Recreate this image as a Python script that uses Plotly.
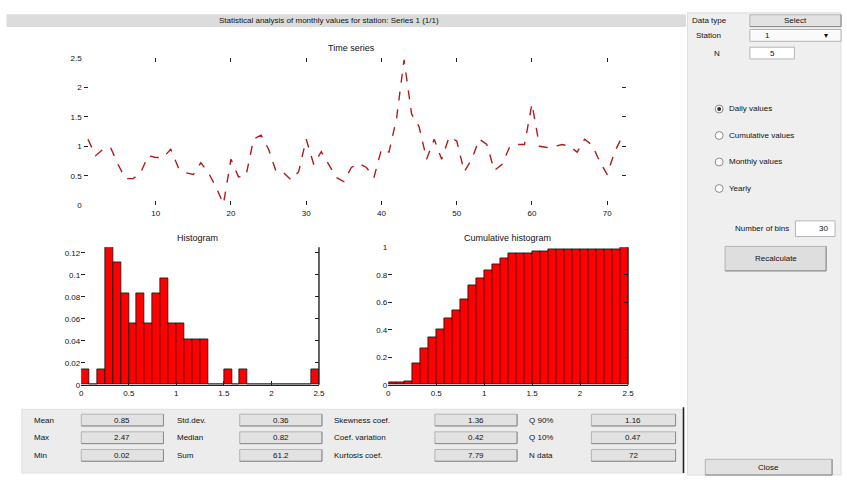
import numpy as np
import plotly.graph_objects as go

W, H = 847, 480
FONT = "Liberation Sans"

# ---- data -------------------------------------------------------------
month_index = list(range(1, 73))
series_values = [
    1.12, 0.84, 0.95, 0.98, 0.69, 0.45, 0.45, 0.55, 0.84, 0.81, 0.81, 0.95,
    0.64, 0.55, 0.52, 0.72, 0.55, 0.31, 0.02, 0.78, 0.48, 0.50, 1.12, 1.19,
    0.95, 0.57, 0.55, 0.43, 0.57, 1.12, 0.69, 0.91, 0.69, 0.47, 0.40, 0.64,
    0.71, 0.64, 0.47, 0.95, 0.90, 1.47, 2.47, 1.55, 1.33, 0.78, 1.12, 0.78,
    1.16, 1.09, 0.57, 0.78, 1.12, 1.03, 0.59, 0.69, 0.98, 1.03, 1.03, 1.72,
    1.00, 0.98, 1.00, 1.03, 1.00, 0.90, 1.12, 1.02, 0.74, 0.52, 0.91, 1.17,
]

n_bins = 30
hist_range = (0.0, 2.5)
hist_counts = [1, 0, 1, 9, 8, 6, 4, 6, 4, 6,
               7, 4, 4, 3, 3, 3, 0, 0, 1, 0,
               1, 0, 0, 0, 0, 0, 0, 0, 0, 1]
cdf_values = [0.014, 0.014, 0.028, 0.153, 0.264, 0.347, 0.403, 0.486, 0.542, 0.625,
              0.722, 0.778, 0.833, 0.875, 0.917, 0.958, 0.958, 0.958, 0.972, 0.972,
              0.986, 0.986, 0.986, 0.986, 0.986, 0.986, 0.986, 0.986, 0.986, 1.000]

series_ticks = [0, 0.5, 1, 1.5, 2, 2.5]
month_ticks = [10, 20, 30, 40, 50, 60, 70]
value_ticks = [0, 0.5, 1, 1.5, 2, 2.5]
freq_ticks = [0, 0.02, 0.04, 0.06, 0.08, 0.1, 0.12]
freq_labels = ["0", "0.02", "0.04", "0.06", "0.08", "0.1", "0.12"]
cdf_ticks = [0, 0.2, 0.4, 0.6, 0.8, 1]

option_labels = ["Daily values", "Cumulative values", "Monthly values", "Yearly"]

# ---- derived statistics shown in the lower panel ---------------------
v = np.array(series_values)
mu, sd = v.mean(), v.std(ddof=1)
skew = np.mean((v - mu) ** 3) / v.std() ** 3
kurt = np.mean((v - mu) ** 4) / v.std() ** 4
stat_rows = [
    [("Mean", f"{mu:.2f}"), ("Std.dev.", f"{sd:.2f}"),
     ("Skewness coef.", f"{skew:.2f}"), ("Q 90%", f"{np.percentile(v, 90):.2f}")],
    [("Max", f"{v.max():.2f}"), ("Median", f"{np.median(v):.2f}"),
     ("Coef. variation", f"{sd / mu:.2f}"), ("Q 10%", f"{np.percentile(v, 10):.2f}")],
    [("Min", f"{v.min():.2f}"), ("Sum", f"{v.sum():.1f}"),
     ("Kurtosis coef.", f"{kurt:.2f}"), ("N data", f"{len(v)}")],
]

# ---- helpers for pixel placement -------------------------------------
def px(x):
    return x / W


def py(y):
    return 1 - y / H


def rect(x0, y0, x1, y1, fill, line="#a8a8a8", lw=1, layer="below"):
    return dict(type="rect", xref="paper", yref="paper",
                x0=px(x0), x1=px(x1), y0=py(y1), y1=py(y0),
                fillcolor=fill, line=dict(color=line, width=lw), layer=layer)


def hline(x0, x1, y, color, lw=1):
    return dict(type="line", xref="paper", yref="paper",
                x0=px(x0), x1=px(x1), y0=py(y), y1=py(y),
                line=dict(color=color, width=lw))


def vline(x, y0, y1, color, lw=1):
    return dict(type="line", xref="paper", yref="paper",
                x0=px(x), x1=px(x), y0=py(y0), y1=py(y1),
                line=dict(color=color, width=lw))


def text(x, y, s, anchor="left", size=8, color="#111"):
    return dict(x=px(x), y=py(y), xref="paper", yref="paper", text=s,
                showarrow=False, xanchor=anchor, yanchor="middle",
                font=dict(family=FONT, size=size, color=color))


def button(x0, y0, x1, y1, label, fill="#e2e2e2"):
    shp = [rect(x0, y0, x1, y1, fill, line="#b4b4b4", layer="above"),
           hline(x0, x1, y1, "#8c8c8c"), vline(x1, y0, y1, "#8c8c8c")]
    ann = [text((x0 + x1) / 2, (y0 + y1) / 2, label, anchor="center")]
    return shp, ann


# ---- figure -----------------------------------------------------------
fig = go.Figure()

fig.add_trace(go.Scatter(
    x=month_index, y=series_values, mode="lines",
    line=dict(color="#b01c1c", width=1.4, dash="dash"),
    xaxis="x", yaxis="y", showlegend=False))

edges = np.linspace(hist_range[0], hist_range[1], n_bins + 1)
centers = (edges[:-1] + edges[1:]) / 2
bw = edges[1] - edges[0]
total = sum(hist_counts)

fig.add_trace(go.Bar(
    x=centers, y=[c / total for c in hist_counts], width=bw,
    marker=dict(color="#ff0000", line=dict(color="#111", width=0.8)),
    xaxis="x2", yaxis="y2", showlegend=False))

fig.add_trace(go.Bar(
    x=centers, y=cdf_values, width=bw,
    marker=dict(color="#ff0000", line=dict(color="#111", width=0.8)),
    xaxis="x3", yaxis="y3", showlegend=False))

tickfont = dict(family=FONT, size=8, color="#111")
common = dict(ticks="inside", ticklen=4, tickcolor="#222", tickfont=tickfont,
              showgrid=False, zeroline=False)

shapes = []
annotations = []

# window regions
shapes.append(rect(5, 11, 690, 23, "#dcdcdc", line="#dcdcdc"))
shapes.append(rect(692, 9, 847, 480, "#efefef", line="#dedede"))
shapes.append(rect(20, 413, 688, 478, "#ececec", line="#e0e0e0"))
shapes.append(vline(688, 411, 478, "#222", 1.6))
annotations.append(text(330, 17, "Statistical analysis of monthly values for station: Series 1 (1/1)",
                        anchor="center"))

# plot titles
annotations.append(text(353, 45, "Time series", anchor="center", size=9))
annotations.append(text(197, 238, "Histogram", anchor="center", size=9))
annotations.append(text(510, 238, "Cumulative histogram", anchor="center", size=9))

# right edge lines of the two lower axes
for ax in ("x2", "x3"):
    shapes.append(dict(type="line", xref=f"{ax} domain", yref=f"y{ax[1]} domain",
                       x0=1, x1=1, y0=0, y1=1, line=dict(color="#222", width=1.4)))

# right control panel
annotations.append(text(714, 17, "Data type", anchor="center"))
s, a = button(755, 11, 847, 23, "Select")
shapes += s
annotations += a
annotations.append(text(713, 32, "Station", anchor="center"))
shapes.append(rect(755, 26, 847, 38, "#fafafa", line="#b4b4b4", layer="above"))
annotations.append(text(773, 32, "1", anchor="center"))
annotations.append(text(832, 32, "▾", anchor="center"))
annotations.append(text(722, 50, "N", anchor="center"))
shapes.append(rect(755, 44, 800, 56, "#ffffff", line="#b4b4b4", layer="above"))
annotations.append(text(778, 50, "5", anchor="center"))

for i, lab in enumerate(option_labels):
    yy = 107 + i * 27
    shapes.append(dict(type="circle", xref="paper", yref="paper",
                       x0=px(720), x1=px(728), y0=py(yy + 4), y1=py(yy - 4),
                       fillcolor="#ffffff", line=dict(color="#8a8a8a", width=1)))
    if i == 0:
        shapes.append(dict(type="circle", xref="paper", yref="paper",
                           x0=px(722), x1=px(726), y0=py(yy + 2), y1=py(yy - 2),
                           fillcolor="#333", line=dict(color="#333", width=0)))
    annotations.append(text(732, yy, lab))

annotations.append(text(797, 229, "Number of bins", anchor="right"))
shapes.append(rect(801, 221, 841, 237, "#ffffff", line="#b4b4b4", layer="above"))
annotations.append(text(836, 229, str(n_bins), anchor="right"))
s, a = button(730, 247, 832, 272, "Recalculate", fill="#dedede")
shapes += s
annotations += a
s, a = button(710, 464, 838, 480, "Close")
shapes += s
annotations += a

# statistics panel
label_x = [30, 175, 333, 530]
box_x = [(80, 163), (240, 323), (437, 520), (595, 680)]
for r, row in enumerate(stat_rows):
    yc = 424 + r * 18
    for c, (lab, val) in enumerate(row):
        annotations.append(text(label_x[c], yc, lab))
        s, a = button(box_x[c][0], yc - 6, box_x[c][1], yc + 6, val)
        shapes += s
        annotations += a

fig.update_layout(
    width=W, height=H,
    margin=dict(l=0, r=0, t=0, b=0),
    paper_bgcolor="#ffffff", plot_bgcolor="#ffffff",
    font=dict(family=FONT, size=8, color="#111"),
    bargap=0,
    xaxis=dict(domain=[px(83), px(630)], range=[0.5, 72.5], tickvals=month_ticks,
               showline=True, linecolor="#ffffff", mirror="ticks", anchor="y", **common),
    yaxis=dict(domain=[py(205), py(55)], range=[0, 2.5], tickvals=series_ticks,
               showline=True, linecolor="#ffffff", mirror="ticks", anchor="x", **common),
    xaxis2=dict(domain=[px(80), px(320)], range=list(hist_range), tickvals=value_ticks,
                showline=True, linecolor="#222", linewidth=1.4, anchor="y2", **common),
    yaxis2=dict(domain=[py(388), py(248)], range=[0, 0.125], tickvals=freq_ticks,
                ticktext=freq_labels, showline=False, mirror="ticks", anchor="x2", **common),
    xaxis3=dict(domain=[px(390), px(632)], range=list(hist_range), tickvals=value_ticks,
                showline=True, linecolor="#222", linewidth=1.4, anchor="y3", **common),
    yaxis3=dict(domain=[py(388), py(248)], range=[0, 1], tickvals=cdf_ticks,
                showline=False, mirror="ticks", anchor="x3", **common),
    shapes=shapes,
    annotations=annotations,
)

fig.write_html("out.html")
